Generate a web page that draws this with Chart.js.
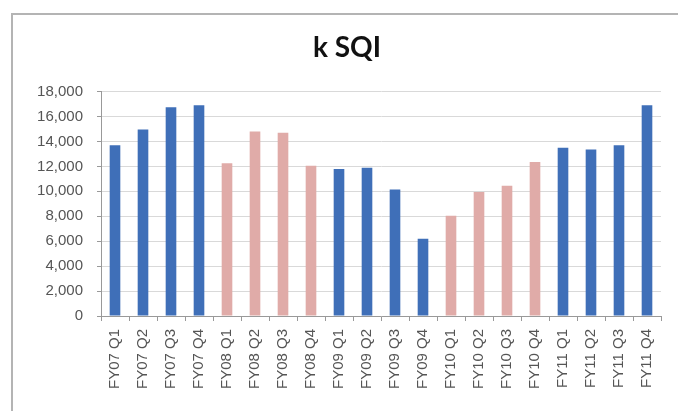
<!DOCTYPE html>
<html>
<head>
<meta charset="utf-8">
<script src="https://cdn.jsdelivr.net/npm/chart.js@4/dist/chart.umd.min.js"></script>
<style>
  html, body { margin: 0; padding: 0; background: #fff; }
  #wrap { position: relative; width: 678px; height: 411px; }
  #frame { position: absolute; left: 11px; top: 13px; width: 700px; height: 420px;
           border-left: 2px solid #b4b4b4; border-top: 2px solid #b4b4b4; }
  canvas { position: absolute; left: 0; top: 0; }
</style>
</head>
<body>
<div id="wrap">
  <div id="frame"></div>
  <canvas id="c" width="678" height="411"></canvas>
</div>
<script>
const categories = ["FY07 Q1","FY07 Q2","FY07 Q3","FY07 Q4","FY08 Q1","FY08 Q2","FY08 Q3","FY08 Q4","FY09 Q1","FY09 Q2","FY09 Q3","FY09 Q4","FY10 Q1","FY10 Q2","FY10 Q3","FY10 Q4","FY11 Q1","FY11 Q2","FY11 Q3","FY11 Q4"];
const values = [13700,14950,16750,16900,12250,14800,14700,12050,11800,11900,10150,6200,8050,9950,10450,12350,13500,13350,13700,16900];
const barGroup = ["blue","blue","blue","blue","pink","pink","pink","pink","blue","blue","blue","blue","pink","pink","pink","pink","blue","blue","blue","blue"];
const yTicks = [0,2000,4000,6000,8000,10000,12000,14000,16000,18000];
const titleText = "k SQI";

const colorMap = { blue: "#3f6fb8", pink: "#e0aba8" };

new Chart(document.getElementById("c"), {
  type: "bar",
  data: {
    labels: categories,
    datasets: [{
      data: values,
      backgroundColor: barGroup.map(g => colorMap[g]),
      borderWidth: 0,
      barPercentage: 0.38,
      categoryPercentage: 1.0
    }]
  },
  options: {
    responsive: false,
    animation: false,
    layout: { padding: { left: 33, right: 17, top: 0, bottom: 0 } },
    plugins: {
      legend: { display: false },
      tooltip: { enabled: false },
      title: {
        display: true,
        text: titleText,
        color: "#111",
        font: { family: "Lato", size: 28, weight: "bold" },
        padding: { top: 31, bottom: 27 }
      }
    },
    scales: {
      x: {
        grid: { display: true, drawOnChartArea: false, offset: true, color: "#999", tickLength: 5 },
        border: { color: "#999" },
        ticks: { color: "#555", font: { family: "Liberation Sans", size: 15 }, maxRotation: 90, minRotation: 90, padding: 8, autoSkip: false },
        afterFit: s => { s.height = 95; }
      },
      y: {
        min: 0, max: 18000,
        afterBuildTicks: s => { s.ticks = yTicks.map(v => ({ value: v })); },
        grid: { color: "#d9d9d9", tickLength: 4, tickColor: "#999" },
        border: { color: "#999" },
        ticks: { color: "#555", font: { family: "Liberation Sans", size: 15 }, padding: 14,
                 callback: v => v.toLocaleString("en-US") },
        afterFit: s => { s.width = 68; }
      }
    }
  }
});
</script>
</body>
</html>
